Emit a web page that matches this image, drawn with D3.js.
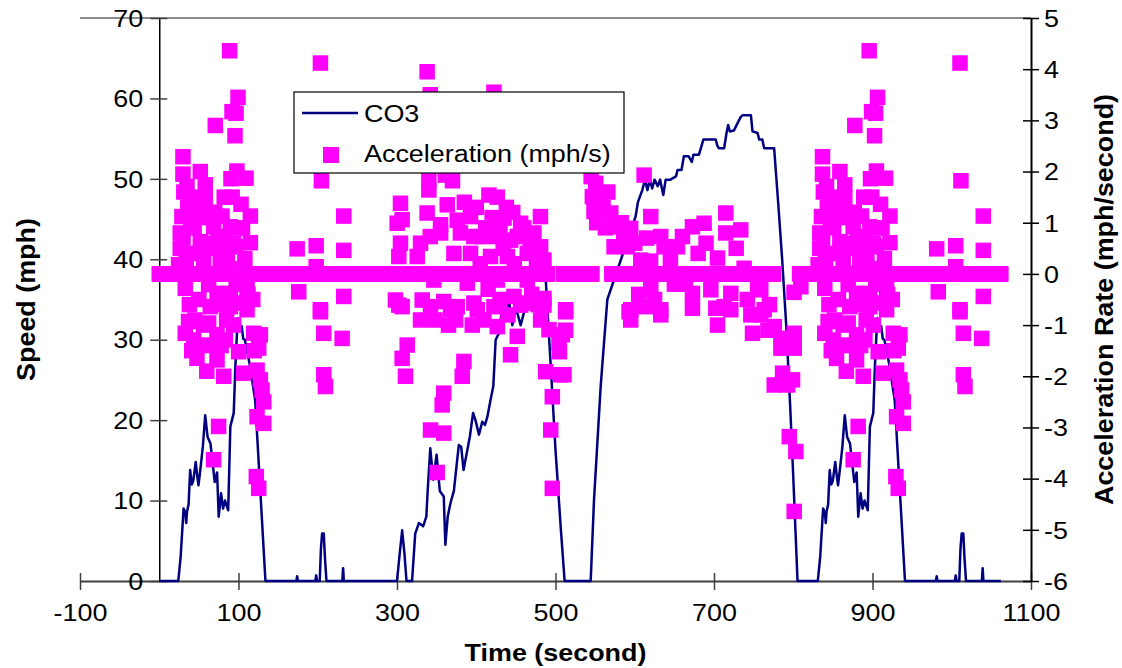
<!DOCTYPE html>
<html>
<head>
<meta charset="utf-8">
<script src="https://cdn.jsdelivr.net/npm/d3@7"></script>
<style>
  body { margin: 0; background: #fff; }
  svg { display: block; }
  text { font-family: "Liberation Sans", Arial, sans-serif; fill: #000; }
</style>
</head>
<body>
<svg id="chart" width="1122" height="668"></svg>
<script>
// CO3 speed trace: [time (s), speed (mph)]
const speedTrace = [
  [0,0],[24,0],[27,3],[30.7,9],[33,8.5],[34,7.2],[35,8.6],[37,9.5],[39,13.8],[41,12],[43,12.5],[46,14.8],[48,13],
  [49.5,11.9],[52.5,14.4],[55,16.7],[58,20.6],[61,17.9],[64.6,17.1],[67,15],[70,12.3],[73,13.5],[75,8],[78,10.9],
  [80.5,9],[83,10],[87,8.8],[89.7,19.2],[94,20.9],[96,26.6],[99,32.7],[101.5,31.3],[104,31.7],[106,30.1],[108,30],
  [114,27],[121,22.5],[134,0],[173,0],[174,0.6],[175,0],[197,0],[198,0.7],[199,0],[202.5,0],[204,4],[205.5,5.9],
  [207.6,5.9],[209,3],[211,0],[231,0],[232,1.6],[233,0],[300,0],[303,3],[306.5,6.3],[309.4,3.4],[312,0],[319,0],
  [323,5.9],[327.6,7.2],[333,6.8],[337,8],[339,11.7],[342,16.5],[345.7,12.6],[350,15.7],[354,11.2],[359,10.5],
  [361,4.5],[364,8],[367.5,9.7],[371.8,11.2],[375,14.2],[378,16.9],[381,16.7],[384,13.8],[388,15.9],[392,18],
  [396,20.9],[399,20],[403.4,18.2],[407.6,19.8],[411,19.4],[414,20.4],[418,22.5],[421.5,24.2],[424.5,30],
  [428.6,30.8],[432.8,34.1],[437,33],[441,35],[445.5,31.8],[450,34],[456,31.8],[460,33.3],[465,35.5],[470,37.5],
  [475,39.5],[480,41.5],[484,41.8],[488,37],[494,26.7],[500,16.3],[506.5,6.8],[511.5,0],[544.4,0],[548.6,10.1],
  [557,24.2],[565.4,35],[601,45.3],[604,47.1],[609.5,48.6],[613,49.9],[616,48.6],[619,49.9],[622,48.8],[625,49.9],
  [629,49.1],[632,49.9],[636,48],[639,49.9],[645,49.9],[652,50.3],[654,51.1],[659,51.1],[662,52.8],[668,52.8],
  [672,52.1],[674,53],[681,53],[686.7,54.9],[702.2,54.9],[704,54.2],[706,53.8],[712.8,53.8],[715.8,55.7],
  [717.9,56.7],[720,55.9],[725,56],[729.6,56.9],[733.8,57.7],[736,57.9],[746.6,57.9],[748.6,55.9],[755,55.7],
  [757,54.9],[761,54.9],[763.3,53.8],[775.9,53.8],[781,47],[786,40],[791,32],[796,22],[800,13],[805.4,0],
  [831,0],[834,3],[837.7,9],[840,8.5],[841,7.2],[842,8.6],[844,9.5],[846,13.8],[848,12],[850,12.5],[853,14.8],
  [855,13],[856.5,11.9],[859.5,14.4],[862,16.7],[865,20.6],[868,17.9],[871.6,17.1],[874,15],[877,12.3],[880,13.5],
  [882,8],[885,10.9],[887.5,9],[890,10],[894,8.8],[896.7,19.2],[901,20.9],[903,26.6],[906,32.7],[908.5,31.3],
  [911,31.7],[913,30.1],[915,30],[921,27],[928,22.5],[941,0],[980,0],[981,0.6],[982,0],[1004,0],[1005,0.7],
  [1006,0],[1009.5,0],[1011,4],[1012.5,5.9],[1014.6,5.9],[1016,3],[1018,0],[1038,0],[1039,1.6],[1040,0],[1062,0]
];

// acceleration samples away from zero: [time (s), mph/s]
const accelPoints = [
  // 0 - 240 s
  [24.4,0.18],[26.5,0.8],[26.5,0.5],[28.6,1.12],[29.9,2.29],[29.9,1.95],[32.8,-0.28],[32.8,-1.16],[35,1.71],
  [37,-0.93],[39,1.48],[43.4,-1.29],[47.6,1.25],[47.6,-1.65],[51.8,2.0],[51.8,0.63],[53.9,-1.39],[56,0.27],
  [58,1.74],[58,1.48],[62.3,-0.21],[62.3,-0.96],[64.4,-0.64],[68.6,0.92],[68.6,-3.63],[70.7,2.9],[72.9,-0.38],
  [72.9,-1.19],[72.9,-1.68],[74.9,-2.98],[77,0.27],[79.2,1.13],[81.3,-2.0],[83.4,0.73],[83.4,-1.29],[88.8,4.36],
  [89,0.1],[89.7,0.92],[89.7,-0.38],[89.7,-0.64],[90.5,1.86],[91.8,3.17],[95.6,2.7],[96.9,3.14],[98,2.01],
  [98,0.53],[99.4,3.45],[100.2,-1.52],[103.2,1.36],[104.4,-0.57],[106.5,-1.94],[109.5,1.87],[110.8,-0.28],
  [110.8,-0.7],[115,1.13],[115,0.61],[119.2,-1.16],[122.5,-3.96],[123.4,-1.88],[123.4,-2.79],[125.5,-1.45],
  [125.5,-4.19],[127.6,-1.19],[127.6,-2.07],[129.7,-2.27],[131.8,-2.5],[131.8,-2.92],
  [31,1.6],[36,1.3],[40,1.0],[44,0.9],[30,0.7],[34,0.3],[45,0.4],[50,1.5],[54,1.1],[38,-0.6],[45,-0.9],[50,-0.5],
  [41,-1.5],[56,-1.0],[60,0.6],[64,0.5],[66,1.2],[70,1.2],[74,0.7],[78,0.5],[82,1.5],[86,0.4],[92,1.5],[94,0.6],
  [100,0.9],[105,0.9],[108,0.3],[112,-0.4],[118,-0.5],[120,-1.5],[80,-0.6],[85,-0.9],[94,-1.0],[97,-0.2],
  [66,-1.4],[78,-1.4],[60,-1.9],
  [174,0.49],[176,-0.35],[198,0.55],[198,0.14],[203.4,4.12],[203.4,-0.7],[203.4,-0.74],[204.6,1.82],[207.6,-1.16],
  [207.6,-1.97],[209.7,-2.2],[230.8,-1.26],[232.8,1.13],[232.8,0.46],[232.8,-0.44],
  // 295 - 515 s
  [298,-0.51],[300.2,0.99],[302.3,0.34],[302.3,-0.61],[304.4,1.38],[304.4,0.6],[306.5,1.06],[306.5,-0.64],
  [306.5,-1.65],[310.7,-2.0],[312.9,-1.39],[325.5,0.34],[329.7,0.6],[329.7,-0.9],[331.8,-0.51],[338,3.95],
  [338,1.19],[340.2,1.84],[340.2,1.64],[342,3.5],[342,0.73],[342.3,-0.64],[342.3,-3.05],[346.5,-0.12],
  [350.7,-3.88],[355,0.96],[355,0.8],[357,-2.56],[359,-0.54],[359,-2.33],[359,-3.11],[361,1.93],[363.4,1.35],
  [367.6,-0.7],[370,1.82],[371.8,0.4],[374,-0.9],[376,1.05],[376,-0.64],[380,0.8],[382.3,-2.0],[384.4,-1.71],
  [388.7,-0.18],[392.8,1.12],[392.8,0.4],[397,0.73],[397,-0.57],[401.3,-0.7],[407.6,0.73],[409.6,-0.9],
  [416,1.54],[418,0.34],[422.3,3.55],[422.3,-0.64],[426.5,1.5],[426.5,0.73],[426.5,-0.12],[426.5,-1.03],
  [435,1.09],[439.2,0.34],[443.4,0.66],[443.3,-1.58],[447.6,-0.44],[451.8,0.73],[451.8,-1.22],[456,0.99],
  [456,-0.61],[464.4,0.4],[464.4,-0.12],[464.4,-0.57],[472.8,0.8],[481,1.12],[481.2,0.53],[481.2,-0.9],
  [485.4,0.27],[485.4,-0.48],[485.4,-0.61],[487.6,-1.91],[491.8,-1.09],[494,-3.05],[496,-2.4],[496,-4.19],
  [504.4,-1.35],[505,-1.52],[506.5,-1.97],[508.6,-1.19],[510.7,-1.97],[512.8,-0.7],[512.8,-0.74],[512.8,-1.1],
  [385,1.4],[400,1.3],[405,0.2],[412,0.9],[420,1.1],[430,0.9],[434,0.5],[438,1.3],[446,1.2],[448,0.2],[460,0.9],
  [468,0.6],[476,0.3],[470,-0.4],[478,-0.6],[440,-0.8],[430,-0.5],[415,-0.3],[395,-1.0],[365,-1.0],[348,-0.9],
  // 545 - 810 s
  [546.5,1.51],[548.6,1.22],[550.7,1.77],[569.7,1.19],[573.9,0.53],[578.1,0.92],[590.7,0.53],[592.8,-0.74],
  [594.9,0.89],[594.9,-0.7],[594.9,-0.9],[607.6,0.27],[611.8,1.93],[613.9,-0.64],[620,0.25],[620.2,1.12],
  [620.2,-0.31],[632.8,0.73],[632.8,-0.7],[632.8,-0.8],[637,0.53],[653.9,0.53],[660.2,0.73],[672.8,0.92],
  [672.8,-0.38],[672.8,-0.67],[687.5,0.99],[696,-0.31],[702.3,-0.67],[704.4,0.31],[704.4,-1.0],[712.8,-0.64],
  [714.9,1.19],[714.9,0.8],[721.2,-0.38],[721.2,-0.7],[733.8,0.86],[738,0.11],[746.5,-0.8],[748.6,-1.16],
  [759,-0.31],[759,-0.8],[763.3,-0.7],[776,-1.03],[776,-2.17],[784.4,-1.26],[784.4,-1.45],[786.5,-1.94],
  [793,-2.17],[795,-3.18],[799.1,-2.07],[801.2,-1.16],[801.2,-1.45],[801.2,-4.64],[803.3,-3.47],[801,-0.36],
  [809.6,-0.25],
  [545,1.9],[552,1.0],[556,1.4],[560,1.3],[563,0.9],[566,1.6],[583,1.0],[586,0.7],[600,0.6],[605,-0.4],[615,0.7],
  [625,-0.5],[645,0.3],[650,-0.2],[664,-0.2],[680,0.4],[690,0.6],[728,0.5],[742,-0.5],[755,-0.2],[768,-1.1],
  [770,-0.6],
  // 830 - 1045 s
  [831.4,0.18],[833.5,0.8],[833.5,0.5],[835.6,1.12],[836.9,2.29],[836.9,1.95],[839.8,-0.28],[839.8,-1.16],
  [842,1.71],[844,-0.93],[846,1.48],[850.4,-1.29],[854.6,1.25],[854.6,-1.65],[858.8,2.0],[858.8,0.63],
  [860.9,-1.39],[863,0.27],[865,1.74],[865,1.48],[869.3,-0.21],[869.3,-0.96],[871.4,-0.64],[875.6,0.92],
  [875.6,-3.63],[877.7,2.9],[879.9,-0.38],[879.9,-1.19],[879.9,-1.68],[881.9,-2.98],[884,0.27],[886.2,1.13],
  [888.3,-2.0],[890.4,0.73],[890.4,-1.29],[895.8,4.36],[896,0.1],[896.7,0.92],[896.7,-0.38],[896.7,-0.64],
  [897.5,1.86],[898.8,3.17],[902.6,2.7],[903.9,3.14],[905,2.01],[905,0.53],[906.4,3.45],[907.2,-1.52],
  [910.2,1.36],[911.4,-0.57],[913.5,-1.94],[916.5,1.87],[917.8,-0.28],[917.8,-0.7],[922,1.13],[922,0.61],
  [926.2,-1.16],[929.5,-3.96],[930.4,-1.88],[930.4,-2.79],[932.5,-1.45],[932.5,-4.19],[934.6,-1.19],
  [934.6,-2.07],[936.7,-2.27],[938.8,-2.5],[938.8,-2.92],
  [838,1.6],[843,1.3],[847,1.0],[851,0.9],[837,0.7],[841,0.3],[852,0.4],[857,1.5],[861,1.1],[845,-0.6],
  [852,-0.9],[857,-0.5],[848,-1.5],[863,-1.0],[867,0.6],[871,0.5],[873,1.2],[877,1.2],[881,0.7],[885,0.5],
  [889,1.5],[893,0.4],[899,1.5],[901,0.6],[907,0.9],[912,0.9],[915,0.3],[919,-0.4],[925,-0.5],[927,-1.5],
  [887,-0.6],[892,-0.9],[901,-1.0],[904,-0.2],[873,-1.4],[885,-1.4],[867,-1.9],
  [981,0.49],[983,-0.35],[1005,0.55],[1005,0.14],[1010.4,4.12],[1010.4,-0.7],[1010.4,-0.74],[1011.6,1.82],
  [1014.6,-1.16],[1014.6,-1.97],[1016.7,-2.2],[1037.8,-1.26],[1039.8,1.13],[1039.8,0.46],[1039.8,-0.44]
];

// stretches of one-second samples where acceleration reads 0: [from, to]
const accelZeroRuns = [[0,490],[510,546],[571,775],[808,1062]];

const timeTicks = [-100, 100, 300, 500, 700, 900, 1100];
const speedTicks = [0, 10, 20, 30, 40, 50, 60, 70];
const accelTicks = [-6, -5, -4, -3, -2, -1, 0, 1, 2, 3, 4, 5];

const seriesNames = ["CO3", "Acceleration (mph/s)"];

const plotLeft = 80, plotRight = 1031, plotTop = 18, plotBottom = 581;
const stretch = 1.17; // source text is drawn slightly wide
const fontSize = 23;
const fontStack = "Liberation Sans, Arial, sans-serif";
const plain = d => String(d); // hyphen minus, as in the source

const svg = d3.select("#chart");

const x = d3.scaleLinear().domain([-100, 1100]).range([plotLeft, plotRight]);
const ySpeed = d3.scaleLinear().domain([0, 70]).range([plotBottom, plotTop]);
const yAcc = d3.scaleLinear().domain([-6, 5]).range([plotBottom, plotTop]);

// plot frame top edge
svg.append("line")
  .attr("x1", plotLeft).attr("x2", plotRight).attr("y1", plotTop).attr("y2", plotTop)
  .attr("stroke", "#8c8c8c").attr("stroke-width", 2);

// x axis
const gx = svg.append("g")
  .attr("transform", `translate(0,${plotBottom})`)
  .call(d3.axisBottom(x).tickValues(timeTicks).tickFormat(plain).tickSizeOuter(0));
gx.select(".domain").attr("stroke", "#404040").attr("stroke-width", 2);
gx.selectAll(".tick line").attr("y1", -8).attr("y2", 9).attr("stroke", "#404040").attr("stroke-width", 1.5);
gx.selectAll(".tick text")
  .attr("y", 40).attr("dy", null)
  .attr("font-size", fontSize).attr("font-family", fontStack)
  .attr("transform", `scale(${stretch},1)`);

// left speed axis sits at t = 0
const gl = svg.append("g")
  .attr("transform", `translate(${x(0)},0)`)
  .call(d3.axisLeft(ySpeed).tickValues(speedTicks).tickFormat(plain).tickSizeOuter(0));
gl.select(".domain").attr("stroke", "#000").attr("stroke-width", 1.5);
gl.selectAll(".tick line").attr("x1", -9).attr("x2", 8).attr("stroke", "#404040").attr("stroke-width", 1.5);
gl.selectAll(".tick text")
  .attr("x", -16 / stretch).attr("dy", "0.36em")
  .attr("font-size", fontSize).attr("font-family", fontStack)
  .attr("transform", `scale(${stretch},1)`);

// right acceleration axis
const gr = svg.append("g")
  .attr("transform", `translate(${plotRight},0)`)
  .call(d3.axisRight(yAcc).tickValues(accelTicks).tickFormat(plain).tickSizeOuter(0));
gr.select(".domain").attr("stroke", "#000").attr("stroke-width", 2);
gr.selectAll(".tick line").attr("x1", -8).attr("x2", 8).attr("stroke", "#000").attr("stroke-width", 1.5);
gr.selectAll(".tick text")
  .attr("x", 13 / stretch).attr("dy", "0.36em")
  .attr("font-size", fontSize).attr("font-family", fontStack)
  .attr("transform", `scale(${stretch},1)`);

// speed line
svg.append("path")
  .datum(speedTrace)
  .attr("fill", "none")
  .attr("stroke", "#000080")
  .attr("stroke-width", 2.5)
  .attr("stroke-linejoin", "round")
  .attr("d", d3.line().x(d => x(d[0])).y(d => ySpeed(d[1])));

// acceleration squares
const zeroPoints = accelZeroRuns.flatMap(([a, b]) => d3.range(a, b + 1).map(t => [t, 0]));
const sq = 15.5;
svg.append("g")
  .attr("fill", "#ff00ff")
  .selectAll("rect")
  .data(zeroPoints.concat(accelPoints))
  .join("rect")
  .attr("x", d => x(d[0]) - sq / 2)
  .attr("y", d => yAcc(d[1]) - sq / 2)
  .attr("width", sq)
  .attr("height", sq);

// axis titles
svg.append("text")
  .attr("transform", `translate(${(plotLeft + plotRight) / 2},661) scale(${stretch},1)`)
  .attr("text-anchor", "middle").attr("font-weight", "bold").attr("font-size", fontSize)
  .text("Time (second)");
svg.append("text")
  .attr("transform", `translate(35,${(plotTop + plotBottom) / 2}) rotate(-90) scale(${stretch},1.1)`)
  .attr("text-anchor", "middle").attr("font-weight", "bold").attr("font-size", fontSize)
  .text("Speed (mph)");
svg.append("text")
  .attr("transform", `translate(1113,${(plotTop + plotBottom) / 2}) rotate(-90) scale(${stretch},1.1)`)
  .attr("text-anchor", "middle").attr("font-weight", "bold").attr("font-size", fontSize)
  .text("Acceleration Rate (mph/second)");

// legend
const lg = svg.append("g").attr("transform", "translate(294,92)");
lg.append("rect").attr("width", 330).attr("height", 81)
  .attr("fill", "#fff").attr("stroke", "#000").attr("stroke-width", 1.2);
lg.append("line").attr("x1", 8).attr("x2", 64).attr("y1", 21).attr("y2", 21)
  .attr("stroke", "#000080").attr("stroke-width", 2.5);
lg.append("rect").attr("x", 37 - 8).attr("y", 63 - 8).attr("width", 16).attr("height", 16).attr("fill", "#ff00ff");
lg.selectAll("text.item")
  .data(seriesNames)
  .join("text")
  .attr("class", "item")
  .attr("transform", (d, i) => `translate(70,${i ? 70 : 29.5}) scale(${stretch},1)`)
  .attr("font-size", fontSize)
  .text(d => d);
</script>
</body>
</html>
